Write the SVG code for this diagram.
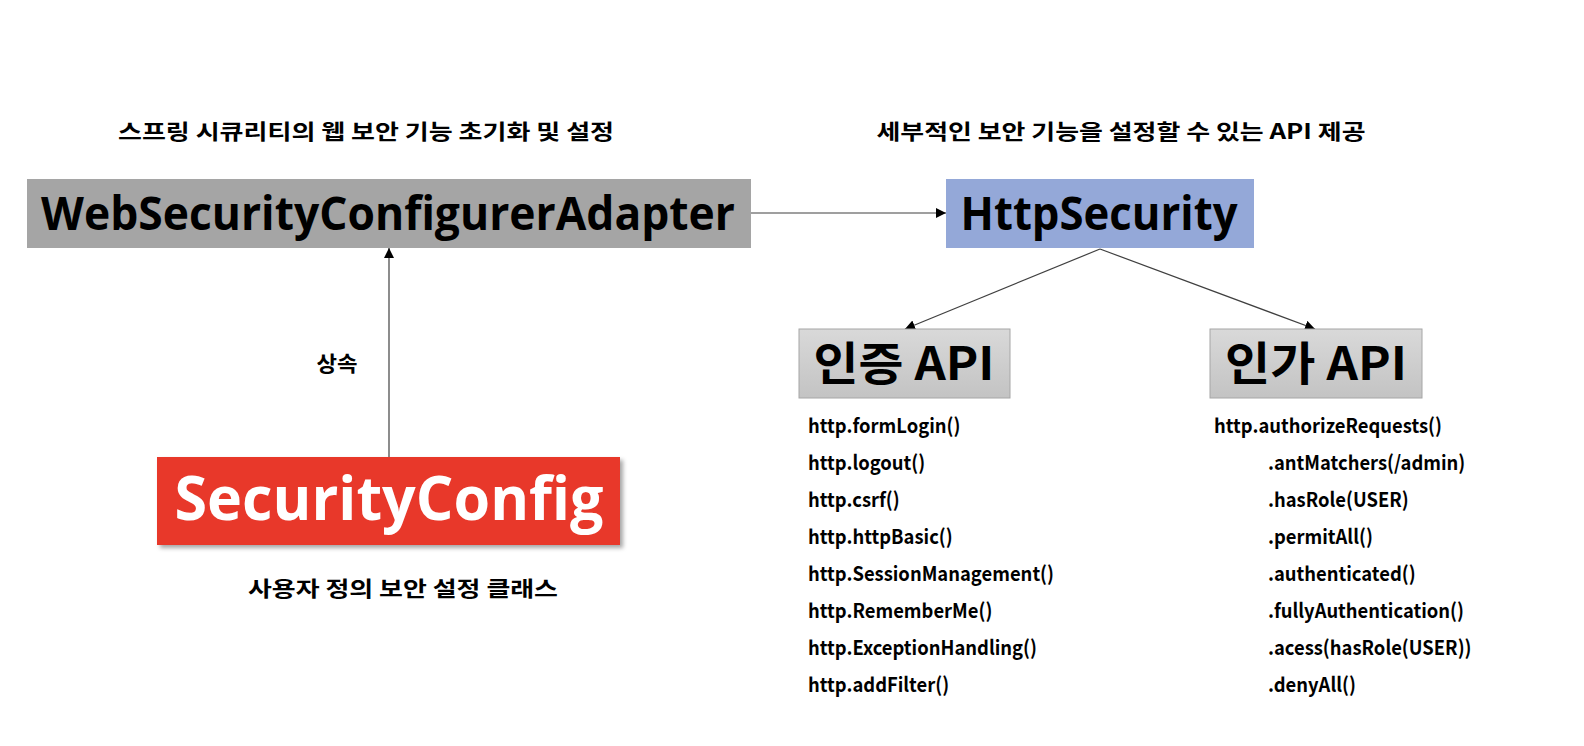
<svg xmlns="http://www.w3.org/2000/svg" width="1584" height="746" viewBox="0 0 1584 746">
<style>
text { font-family: "Open Sans", "Noto Sans CJK KR", sans-serif; font-weight: bold; fill: #000; }
.cap { font-family: "Noto Sans CJK KR", "Open Sans", sans-serif; font-size: 21px; text-anchor: middle; }
.big { font-size: 46px; text-anchor: middle; }
.api { font-family: "Noto Sans CJK KR", "Open Sans", sans-serif; font-size: 46px; text-anchor: middle; }
.item { font-family: "Noto Sans CJK KR", "Noto Sans", sans-serif; font-size: 20px; }
.conn { stroke: #404040; stroke-width: 1.2; fill: none; marker-end: url(#ah); }
</style>
<defs>
<marker id="ah" markerWidth="11" markerHeight="11" refX="10" refY="5" orient="auto" markerUnits="userSpaceOnUse">
<path d="M0,0 L10,5 L0,10 z" fill="#000"/>
</marker>
<linearGradient id="gg" x1="0" y1="0" x2="0" y2="1">
<stop offset="0" stop-color="#d9d9d9"/>
<stop offset="1" stop-color="#c3c3c3"/>
</linearGradient>
<filter id="sh" x="-5%" y="-10%" width="112%" height="130%">
<feDropShadow dx="3" dy="3" stdDeviation="2" flood-color="#000" flood-opacity="0.35"/>
</filter>
</defs>
<rect width="1584" height="746" fill="#fff"/>

<g id="connectors">
<line class="conn" x1="751" y1="213" x2="946" y2="213"/>
<line class="conn" x1="389" y1="457" x2="389" y2="248"/>
<line class="conn" x1="1100" y1="249" x2="905" y2="329"/>
<line class="conn" x1="1100" y1="249" x2="1315" y2="329"/>
</g>

<g id="title-left">
<text class="cap" x="366" y="139" textLength="496" lengthAdjust="spacingAndGlyphs">스프링 시큐리티의 웹 보안 기능 초기화 및 설정</text>
</g>
<g id="title-right">
<text class="cap" x="1121" y="139" textLength="489" lengthAdjust="spacingAndGlyphs">세부적인 보안 기능을 설정할 수 있는 API 제공</text>
</g>

<g id="websecurityconfigureradapter">
<rect x="27" y="179" width="724" height="69" fill="#a5a5a5"/>
<text class="big" x="388" y="230" textLength="694" lengthAdjust="spacingAndGlyphs">WebSecurityConfigurerAdapter</text>
</g>

<g id="httpsecurity">
<rect x="946" y="179" width="308" height="69" fill="#94a8d8"/>
<text class="big" x="1099" y="230" textLength="277" lengthAdjust="spacingAndGlyphs">HttpSecurity</text>
</g>

<g id="label-inherit">
<text class="cap" x="337" y="371" font-size="20" textLength="41" lengthAdjust="spacingAndGlyphs">상속</text>
</g>

<g id="securityconfig">
<rect x="157" y="457" width="463" height="88" fill="#e8372a" filter="url(#sh)"/>
<text x="389" y="520" font-size="60" text-anchor="middle" style="fill:#fff" textLength="429" lengthAdjust="spacingAndGlyphs">SecurityConfig</text>
</g>

<g id="label-custom">
<text class="cap" x="403" y="596" textLength="310" lengthAdjust="spacingAndGlyphs">사용자 정의 보안 설정 클래스</text>
</g>

<g id="authentication-api">
<rect x="799" y="329" width="211" height="69" fill="url(#gg)" stroke="#a6a6a6" stroke-width="1"/>
<text class="api" x="904" y="380" textLength="181" lengthAdjust="spacingAndGlyphs">인증 API</text>
</g>

<g id="authorization-api">
<rect x="1210" y="329" width="212" height="69" fill="url(#gg)" stroke="#a6a6a6" stroke-width="1"/>
<text class="api" x="1316" y="380" textLength="182" lengthAdjust="spacingAndGlyphs">인가 API</text>
</g>

<g id="authentication-list" transform="translate(808,0) scale(0.92,1)">
<text class="item" x="0" y="433">http.formLogin()</text>
<text class="item" x="0" y="470">http.logout()</text>
<text class="item" x="0" y="507">http.csrf()</text>
<text class="item" x="0" y="544">http.httpBasic()</text>
<text class="item" x="0" y="581">http.SessionManagement()</text>
<text class="item" x="0" y="618">http.RememberMe()</text>
<text class="item" x="0" y="655">http.ExceptionHandling()</text>
<text class="item" x="0" y="692">http.addFilter()</text>
</g>

<g id="authorization-list" transform="translate(1214,0) scale(0.92,1)">
<text class="item" x="0" y="433">http.authorizeRequests()</text>
<text class="item" x="58.7" y="470">.antMatchers(/admin)</text>
<text class="item" x="58.7" y="507">.hasRole(USER)</text>
<text class="item" x="58.7" y="544">.permitAll()</text>
<text class="item" x="58.7" y="581">.authenticated()</text>
<text class="item" x="58.7" y="618">.fullyAuthentication()</text>
<text class="item" x="58.7" y="655">.acess(hasRole(USER))</text>
<text class="item" x="58.7" y="692">.denyAll()</text>
</g>
</svg>
